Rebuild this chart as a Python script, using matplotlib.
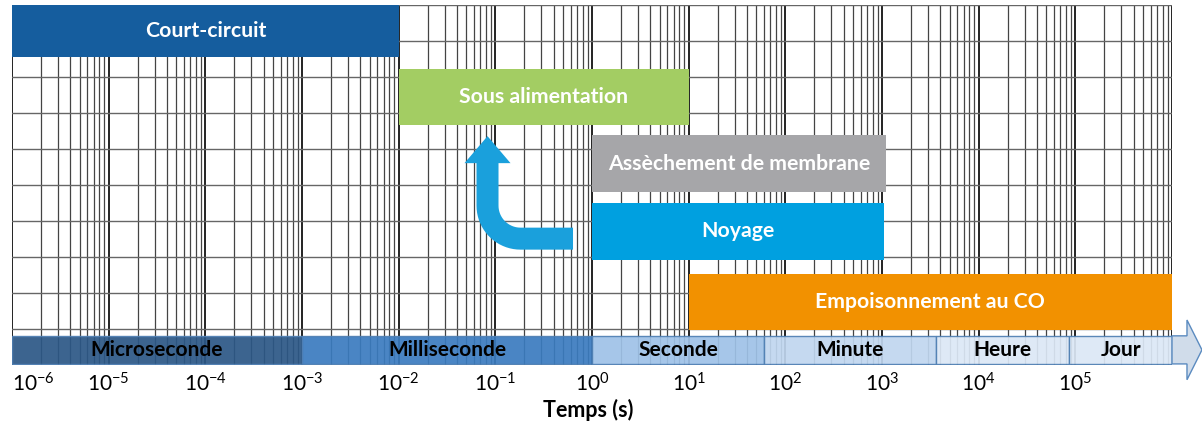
import numpy as np
import matplotlib
matplotlib.use('Agg')
import matplotlib.pyplot as plt
import matplotlib.transforms as mtransforms
from matplotlib.patches import Polygon
from matplotlib.ticker import FixedLocator, LogLocator, NullFormatter

# fault modes and their time ranges (s)
faults = ['Court-circuit', 'Sous alimentation', 'Assèchement de membrane',
          'Noyage', 'Empoisonnement au CO']
fault_start = [1e-6, 1e-2, 1e0, 1e0, 1e1]
fault_end = [1e-2, 1e1, 1.1e3, 1.05e3, 1e6]
fault_bottom = [8.55, 6.67, 4.80, 2.92, 0.97]
fault_height = [1.45, 1.55, 1.59, 1.58, 1.56]
fault_colors = ['#155d9e', '#a3cd63', '#a6a6a9', '#00a0e0', '#f29100']

# time scale band
units = ['Microseconde', 'Milliseconde', 'Seconde', 'Minute', 'Heure', 'Jour']
unit_bounds = [1e-6, 1e-3, 1e0, 60, 3600, 86400, 1e6]
unit_colors = ['#2b5786', '#3a7bbf', '#9fc2e8', '#c0d6ef', '#dce8f6', '#dce8f6']

decades = list(range(-6, 7))

plt.rcParams['font.family'] = ['Lato', 'DejaVu Sans']
plt.rcParams['mathtext.fontset'] = 'custom'
plt.rcParams['mathtext.rm'] = 'Lato'
plt.rcParams['mathtext.it'] = 'Lato:italic'
plt.rcParams['mathtext.bf'] = 'Lato:bold'


def main():
    fig = plt.figure(figsize=(12.02, 4.23), dpi=100)
    ax = fig.add_axes([12 / 1202, 58 / 423, 1160 / 1202, 360 / 423])
    ax.set_xscale('log')
    ax.set_xlim(1e-6, 1e6)
    ax.set_ylim(0, 10)

    # grid
    ax.set_axisbelow(True)
    ticks = [10.0 ** e for e in decades]
    ax.xaxis.set_major_locator(FixedLocator(ticks))
    ax.xaxis.set_minor_locator(LogLocator(base=10, subs=np.arange(2, 10), numticks=100))
    ax.xaxis.set_minor_formatter(NullFormatter())
    labels = ['$10^{%d}$' % e for e in decades]
    labels[-1] = ''
    ax.set_xticklabels(labels, fontsize=15)
    ax.get_xticklabels()[0].set_ha('left')
    ax.set_yticks(range(0, 11))
    ax.set_yticklabels([])
    ax.tick_params(which='both', length=0)
    ax.tick_params(axis='x', pad=5)
    ax.grid(which='major', axis='x', color='#111111', lw=1.3)
    ax.grid(which='minor', axis='x', color='#444444', lw=0.9)
    ax.grid(which='major', axis='y', color='#666666', lw=1.0)
    for s in ax.spines.values():
        s.set_visible(False)

    # fault bars
    for name, a, b, y0, h, c in zip(faults, fault_start, fault_end,
                                     fault_bottom, fault_height, fault_colors):
        ax.barh(y0, b - a, left=a, height=h, align='edge', color=c, zorder=3)
        xc = np.sqrt(a * b)
        ax.text(xc, y0 + h / 2, name, color='white', fontsize=15.3,
                fontweight='bold', ha='center', va='center', zorder=4)

    # time band
    band_y, band_h = 0.03, 0.78
    for name, a, b, c in zip(units, unit_bounds[:-1], unit_bounds[1:], unit_colors):
        ax.barh(band_y, b - a, left=a, height=band_h, align='edge', color=c,
                edgecolor='#4f7fb3', lw=1, alpha=0.92, zorder=3)
        ax.text(np.sqrt(a * b), band_y + band_h / 2, name, color='black',
                fontsize=15, fontweight='bold', ha='center', va='center', zorder=4)

    # arrow head of the band
    xe = unit_bounds[-1]
    x1 = xe * 10 ** 0.155
    x2 = xe * 10 ** 0.31
    yc = band_y + band_h / 2
    head = Polygon([(xe, band_y), (x1, band_y), (x1, yc - 0.83), (x2, yc),
                    (x1, yc + 0.83), (x1, band_y + band_h), (xe, band_y + band_h)],
                   closed=True, facecolor='#d0dcea', edgecolor='#5b8bc0', lw=1,
                   clip_on=False, zorder=3)
    ax.add_patch(head)

    # bent arrow (shape in pixels around its corner)
    R, w = 33.0, 11.0
    tail, base, tip, hw = 85.5, 75.5, 102.5, 23.0
    t_out = np.linspace(-np.pi / 2, -np.pi, 20)
    t_in = np.linspace(-np.pi, -np.pi / 2, 20)
    pts = [(tail, -w)]
    pts += [(R + (R + w) * np.cos(t), R + (R + w) * np.sin(t)) for t in t_out]
    pts += [(-w, base), (-hw, base), (0, tip), (hw, base), (w, base)]
    pts += [(R + (R - w) * np.cos(t), R + (R - w) * np.sin(t)) for t in t_in]
    pts += [(tail, w)]
    pts = np.array(pts) / 100.0
    tr = fig.dpi_scale_trans + mtransforms.ScaledTranslation(0.083, 3.51, ax.transData)
    ax.add_patch(Polygon(pts, closed=True, facecolor='#1aa0dc', edgecolor='none',
                         transform=tr, zorder=3))

    fig.text(588 / 1202, 1 - 410 / 423, 'Temps (s)', fontsize=15.5, fontweight='bold',
             ha='center', va='center')

    fig.savefig('out.png', dpi=100)


if __name__ == '__main__':
    main()
